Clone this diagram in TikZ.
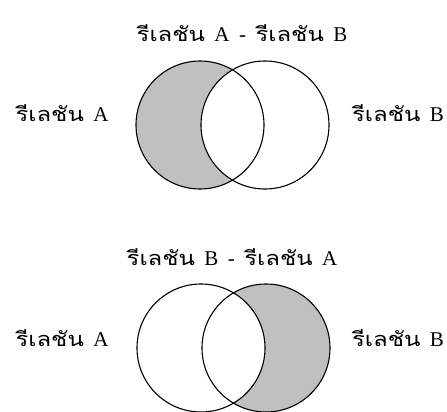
\documentclass[tikz,border=0pt]{standalone}
\usepackage{fontspec}
\setmainfont{Liberation Serif}
\newfontfamily\thaifont[Script=Thai,FakeStretch=1.2,Scale=0.95]{Loma}
\newcommand{\rel}{{\thaifont รีเลชัน}}
\newcommand{\gap}{\hspace{0.45em}}
\definecolor{venngray}{RGB}{192,192,192}
\tikzset{
  lbl/.style={font=\fontsize{21}{23}\selectfont, inner sep=0pt},
  ring/.style={draw=black, line width=1.1pt, circle, minimum size=128pt, inner sep=0pt},
}
\begin{document}
\begin{tikzpicture}[x=1pt,y=-1pt]
\useasboundingbox (0,0) rectangle (447,412);
% top diagram: A - B
\fill[venngray] (200,125) circle (64);
\fill[white] (265,125) circle (64);
\node[ring] (a1) at (200,125) {};
\node[ring] (b1) at (265,125) {};
\node[lbl] (t1) at (242,33) {\rel\gap A\gap -\gap\rel\gap B};
\node[lbl] (la1) at (62,113) {\rel\gap A};
\node[lbl] (lb1) at (398,113) {\rel\gap B};
% bottom diagram: B - A
\fill[venngray] (266,348) circle (64);
\fill[white] (201,348) circle (64);
\node[ring] (a2) at (201,348) {};
\node[ring] (b2) at (266,348) {};
\node[lbl] (t2) at (232,257) {\rel\gap B\gap -\gap\rel\gap A};
\node[lbl] (la2) at (62,338) {\rel\gap A};
\node[lbl] (lb2) at (398,338) {\rel\gap B};
\end{tikzpicture}
\end{document}
